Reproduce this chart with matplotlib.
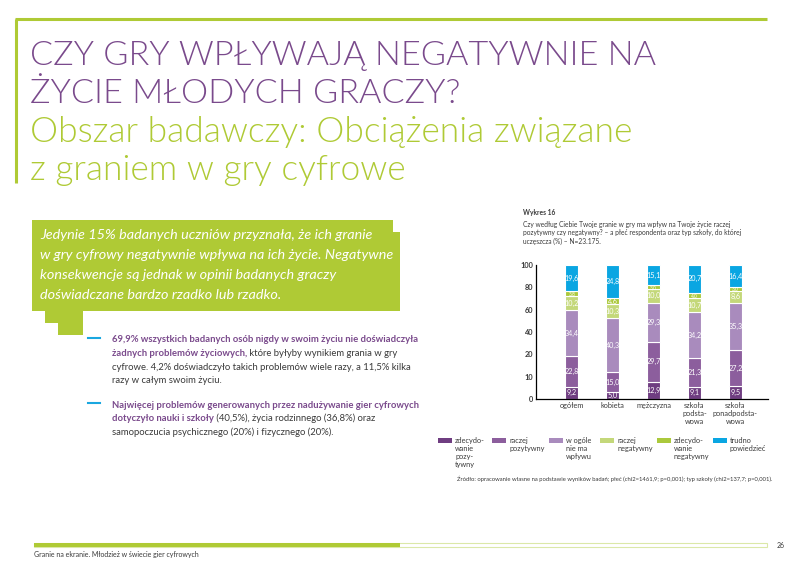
import numpy as np
import matplotlib
matplotlib.use('Agg')
import matplotlib.pyplot as plt
from matplotlib.patches import Polygon, Rectangle

plt.rcParams['font.family'] = ['Lato', 'DejaVu Sans']

# dane wykresu
categories = ['ogółem', 'kobieta', 'mężczyzna', 'szkoła\npodsta-\nwowa', 'szkoła\nponadpodsta-\nwowa']
series = ['zdecydo-\nwanie\npozy-\ntywny', 'raczej\npozytywny', 'w ogóle\nnie ma\nwpływu',
          'raczej\nnegatywny', 'zdecydo-\nwanie\nnegatywny', 'trudno\npowiedzieć']
zdec_poz = [9.2, 5.0, 12.9, 9.1, 9.5]
raczej_poz = [22.8, 15.0, 29.7, 21.3, 27.2]
bez_wplywu = [34.4, 40.3, 29.3, 34.2, 35.3]
raczej_neg = [10.2, 10.3, 10.0, 10.7, 8.6]
zdec_neg = [3.8, 4.6, 3.0, 4.0, 3.0]
trudno = [19.6, 24.8, 15.1, 20.7, 16.4]
ytick_labels = ['0', '10', '20', '40', '60', '80', '100']

colors = ['#6f3d81', '#8c5e9d', '#a98bbd', '#c4d87a', '#abc93c', '#0aa6e2']
green = '#afca35'
purple = '#7a4a8c'
grey = '#3a3a3a'

fig = plt.figure(figsize=(8, 5.66), dpi=100)

# warstwa strony w pikselach
ax0 = fig.add_axes([0, 0, 1, 1])
ax0.set_xlim(0, 800)
ax0.set_ylim(566, 0)
ax0.axis('off')

ax0.plot([15, 767], [19, 19], color=green, lw=2.2, solid_capstyle='butt')
ax0.plot([16, 16], [19, 183], color=green, lw=2.2, solid_capstyle='butt')

title_kw = dict(fontweight=300, va='baseline')
ax0.text(30, 65, 'CZY GRY WPŁYWAJĄ NEGATYWNIE NA', color=purple, fontsize=24.7, **title_kw)
ax0.text(30, 103, 'ŻYCIE MŁODYCH GRACZY?', color=purple, fontsize=24.7, **title_kw)
ax0.text(30, 142, 'Obszar badawczy: Obciążenia związane', color=green, fontsize=25.5, **title_kw)
ax0.text(30, 180, 'z graniem w gry cyfrowe', color=green, fontsize=25.5, **title_kw)

# dymek
callout = [(32, 220), (393, 220), (393, 232), (400, 232), (400, 311), (83, 311), (83, 335),
           (58, 335), (58, 323), (45, 323), (45, 311), (32, 311)]
ax0.add_patch(Polygon(callout, closed=True, color=green, lw=0))
callout_lines = ['Jedynie 15% badanych uczniów przyznała, że ich granie',
                 'w gry cyfrowy negatywnie wpływa na ich życie. Negatywne',
                 'konsekwencje są jednak w opinii badanych graczy',
                 'doświadczane bardzo rzadko lub rzadko.']
for i, line in enumerate(callout_lines):
    ax0.text(40, 235 + i * 20, line, fontsize=10.4, color='white', style='italic', va='center')

# punkty
renderer = fig.canvas.get_renderer()


def rich_line(x, y, parts):
    for txt, bold in parts:
        t = ax0.text(x, y, txt, fontsize=6.8, va='center',
                     color=purple if bold else grey,
                     fontweight='bold' if bold else 'normal')
        x += t.get_window_extent(renderer).width


bullet1 = [[('69,9% wszystkich badanych osób nigdy w swoim życiu nie doświadczyła', True)],
           [('żadnych problemów życiowych,', True), (' które byłyby wynikiem grania w gry', False)],
           [('cyfrowe. 4,2% doświadczyło takich problemów wiele razy, a 11,5% kilka', False)],
           [('razy w całym swoim życiu.', False)]]
bullet2 = [[('Najwięcej problemów generowanych przez nadużywanie gier cyfrowych', True)],
           [('dotyczyło nauki i szkoły', True), (' (40,5%), życia rodzinnego (36,8%) oraz', False)],
           [('samopoczucia psychicznego (20%) i fizycznego (20%).', False)]]
for y0, bullet in [(340, bullet1), (405, bullet2)]:
    ax0.plot([88, 100], [y0 - 2, y0 - 2], color='#1aa7e0', lw=1.5)
    for i, parts in enumerate(bullet):
        rich_line(112, y0 + i * 13.5, parts)

# opis wykresu
ax0.text(523, 213, 'Wykres 16', fontsize=4.8, fontweight='bold', color=grey, va='center')
ax0.text(523, 233, 'Czy według Ciebie Twoje granie w gry ma wpływ na Twoje życie raczej\n'
         'pozytywny czy negatywny? – a płeć respondenta oraz typ szkoły, do której\n'
         'uczęszcza (%) – N=23.175.', fontsize=4.8, color=grey, va='center', linespacing=1.25)

# legenda
leg_x = [438, 492, 549, 600, 657, 713]
for x, lab, c in zip(leg_x, series, colors):
    ax0.add_patch(Rectangle((x, 438), 14, 5, color=c, lw=0))
    ax0.text(x + 17, 437, lab, fontsize=5.3, color=grey, va='top', linespacing=1.15)

ax0.text(457, 479, 'Źródło: opracowanie własne na podstawie wyników badań; płeć (chi2=1461,9; p=0,001); '
         'typ szkoły (chi2=137,7; p=0,001).', fontsize=4.2, color=grey, va='center')

# stopka
ax0.add_patch(Rectangle((34, 543), 733, 4, facecolor='none', edgecolor='#dbe8a8', lw=0.8))
ax0.add_patch(Rectangle((34, 543), 366, 4, color=green, lw=0))
ax0.text(777, 545, '26', fontsize=5, color=grey, va='center')
ax0.text(34, 554, 'Granie na ekranie. Młodzież w świecie gier cyfrowych', fontsize=5,
         color=grey, va='center')

# wykres słupkowy
ax = fig.add_axes([536 / 800, 1 - 399 / 566, (768 - 536) / 800, (399 - 265) / 566])
x = np.arange(len(categories))
bottom = np.zeros(len(categories))
for vals, c in zip([zdec_poz, raczej_poz, bez_wplywu, raczej_neg, zdec_neg, trudno], colors):
    vals = np.array(vals)
    ax.bar(x, vals, 0.32, bottom=bottom, color=c, edgecolor='white', linewidth=0.8)
    for xi, b, v in zip(x, bottom, vals):
        ax.text(xi, b + v / 2, f'{v:.1f}'.replace('.', ','), ha='center', va='center',
                color='white', fontsize=5.2 if v >= 4.5 else 3.5)
    bottom += vals

ax.set_xlim(-0.88, 4.8)
ax.set_ylim(0, 100)
ax.set_yticks(np.linspace(0, 100, 7))
ax.set_yticklabels(ytick_labels, fontsize=5.3, fontweight='bold', color=grey)
ax.set_xticks(x)
ax.set_xticklabels(categories, fontsize=5.3, color=grey, linespacing=1.2, va='top')
ax.tick_params(length=0, pad=2)
for s in ['top', 'right']:
    ax.spines[s].set_visible(False)
for s in ['left', 'bottom']:
    ax.spines[s].set_linewidth(0.9)

fig.savefig('out.png', dpi=100)
